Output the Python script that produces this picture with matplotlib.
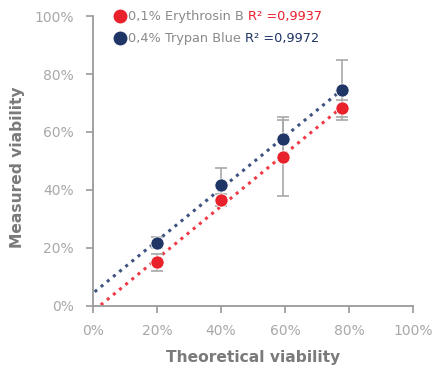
import numpy as np
import matplotlib.pyplot as plt

theoretical = [20, 40, 59.5, 77.8]
erythrosin = [15.0, 36.5, 51.5, 68.2]
erythrosin_err = [3.0, 2.0, 13.5, 3.0]
trypan = [21.8, 41.7, 57.5, 74.5]
trypan_err = [2.0, 6.0, 6.6, 10.3]
labels = ['0,1% Erythrosin B ', '0,4% Trypan Blue ']
r2_labels = ['R² =0,9937', 'R² =0,9972']
ticks = [0, 20, 40, 60, 80, 100]

red = '#e8212b'
navy = '#1f3566'
gray = '#9a9a9a'

fig = plt.figure(figsize=(4.37, 3.73), dpi=100)
ax = fig.add_axes([0.213, 0.18, 0.732, 0.777])

x = np.array(theoretical)
for ys, err, col, lcol in [(erythrosin, erythrosin_err, red, '#ee3a44'),
                           (trypan, trypan_err, navy, '#3d5280')]:
    slope, icpt = np.polyfit(x, ys, 1)
    xl = np.array([0.5, x[-1]])
    ax.plot(xl, slope * xl + icpt, ls=(0, (1, 1.6)), lw=2.2, color=lcol, zorder=2)
    ax.errorbar(x, ys, yerr=err, fmt='none', ecolor='#a8a8a8', elinewidth=1.2,
                capsize=4, capthick=1.2, zorder=3)
    ax.plot(x, ys, 'o', ms=9.5, color=col, mec='white', mew=0.6, zorder=4)

ax.set_xlim(0, 100)
ax.set_ylim(0, 100)
ax.set_xticks(ticks)
ax.set_yticks(ticks)
ax.set_xticklabels([f'{t}%' for t in ticks])
ax.set_yticklabels([f'{t}%' for t in ticks])
for s in ['top', 'right']:
    ax.spines[s].set_visible(False)
for s in ['left', 'bottom']:
    ax.spines[s].set_color(gray)
    ax.spines[s].set_linewidth(1.3)
ax.tick_params(colors=gray, labelcolor='#a8a8a8', labelsize=10, length=5,
               width=1.2, direction='out')
ax.tick_params(axis='y', pad=9)
ax.tick_params(axis='x', pad=8)
ax.set_xlabel('Theoretical viability', fontsize=11.2, fontweight='bold',
              color='#7a7a7a', labelpad=9)
ax.set_ylabel('Measured viability', fontsize=11.2, fontweight='bold',
              color='#7a7a7a')
ax.yaxis.set_label_coords(-0.212, 0.479)

# legend drawn by hand so the R² part can be coloured
renderer = fig.canvas.get_renderer()
for i, (lab, r2, col) in enumerate(zip(labels, r2_labels, [red, navy])):
    yy = 1.0 - i * 0.077
    ax.plot([0.085], [yy], 'o', ms=9, color=col, transform=ax.transAxes,
            clip_on=False, zorder=5)
    t = ax.text(0.11, yy, lab, transform=ax.transAxes, fontsize=9.3,
                color='#8a8a8a', va='center', ha='left')
    bb = t.get_window_extent(renderer)
    x1 = ax.transAxes.inverted().transform((bb.x1, bb.y0))[0]
    ax.text(x1, yy, r2, transform=ax.transAxes, fontsize=9.3, color=col,
            va='center', ha='left')

fig.savefig('out.png', dpi=100)
